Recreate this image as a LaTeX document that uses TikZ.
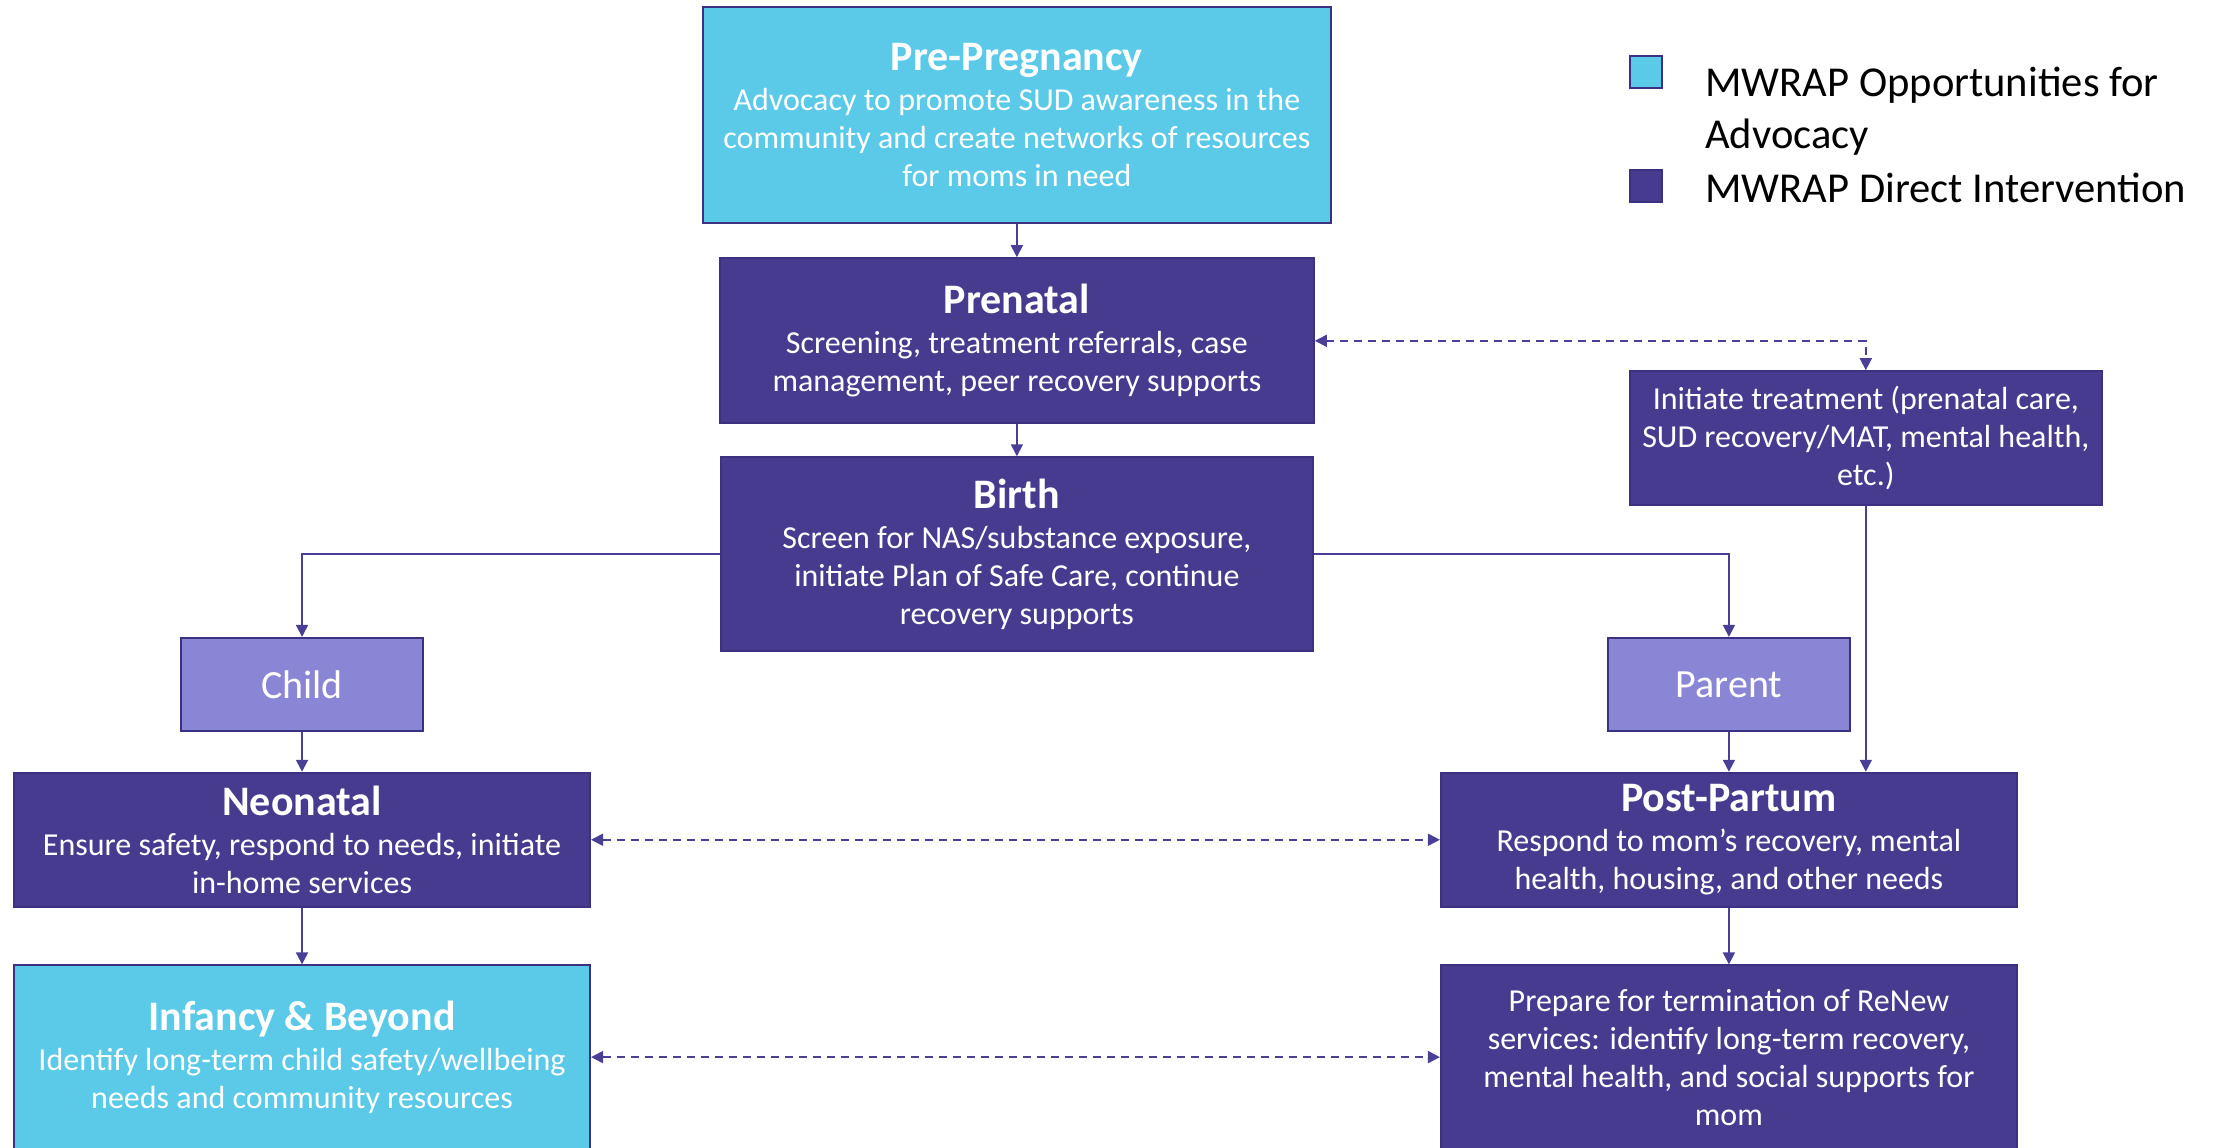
\documentclass[tikz,border=0pt]{standalone}
\usepackage{fontspec}
\setmainfont{Carlito}
\usepackage{xcolor}
\usetikzlibrary{arrows.meta,positioning,calc}
\definecolor{advcyan}{HTML}{5BC9E8}
\definecolor{dirpurple}{HTML}{473B8F}
\definecolor{subpurple}{HTML}{8A86D6}
\definecolor{edgepurple}{HTML}{3B3180}
\definecolor{linkpurple}{HTML}{4A3F97}
\newcommand{\stage}[1]{{\fontsize{21}{25}\selectfont\bfseries #1}\\[1pt]}
\tikzset{
  adv/.style={rectangle, draw=edgepurple, line width=1pt, fill=advcyan, align=center,
              text=white, font=\fontsize{16}{19}\selectfont, inner sep=2pt},
  dir/.style={rectangle, draw=edgepurple, line width=1pt, fill=dirpurple, align=center,
              text=white, font=\fontsize{16}{19}\selectfont, inner sep=2pt},
  sub/.style={rectangle, draw=edgepurple, line width=1pt, fill=subpurple, align=center,
              text=white, font=\fontsize{20}{24}\selectfont, inner sep=2pt,
              minimum width=121pt, minimum height=46.6pt},
  legsq/.style={rectangle, draw=edgepurple, line width=1pt, minimum size=16pt, inner sep=0pt},
  legtxt/.style={align=left, font=\fontsize{21.3}{26}\selectfont, inner sep=0pt},
  fl/.style={-{Triangle[length=6pt,width=6pt]}, line width=0.9pt, draw=linkpurple},
  bi/.style={{Triangle[length=6pt,width=6pt]}-{Triangle[length=6pt,width=6pt]},
             line width=0.9pt, draw=linkpurple, dash pattern=on 4pt off 3pt},
}

\begin{document}
\begin{tikzpicture}[x=0.7057pt, y=-0.7057pt]
\useasboundingbox (0,0) rectangle (1568,813);
% stages
\node[adv, minimum width=314pt, minimum height=108pt] (prepreg) at (720.5,81.5)
  {\stage{Pre-Pregnancy}Advocacy to promote SUD awareness in the\\community and create networks of resources\\for moms in need};
\node[dir, minimum width=297pt, minimum height=82.6pt] (prenatal) at (720.5,241.5)
  {\stage{Prenatal}Screening, treatment referrals, case\\management, peer recovery supports};
\node[dir, minimum width=296pt, minimum height=96.7pt] (birth) at (720.5,392.5)
  {\stage{Birth}Screen for NAS/substance exposure,\\initiate Plan of Safe Care, continue\\recovery supports};
\node[dir, minimum width=235.7pt, minimum height=67pt] (initiate) at (1322,310.5)
  {Initiate treatment (prenatal care,\\SUD recovery/MAT, mental health,\\etc.)};
\node[sub] (child) at (214,485) {Child};
\node[sub] (parent) at (1225,485) {Parent};
\node[dir, minimum width=288pt, minimum height=67pt] (neonatal) at (214,595)
  {\stage{Neonatal}Ensure safety, respond to needs, initiate\\in-home services};
\node[dir, minimum width=288pt, minimum height=67pt] (postpartum) at (1225,595)
  {\stage{Post-Partum}Respond to mom’s recovery, mental\\health, housing, and other needs};
\node[adv, minimum width=288pt, minimum height=91.7pt] (infancy) at (214,749)
  {\stage{Infancy \& Beyond}Identify long-term child safety/wellbeing\\needs and community resources};
\node[dir, minimum width=288pt, minimum height=91.7pt] (prepare) at (1225,749)
  {Prepare for termination of ReNew\\services: identify long-term recovery,\\mental health, and social supports for\\mom};
% legend
\node[legsq, fill=advcyan] (lgadv) at (1166.5,51) {};
\node[legsq, fill=dirpurple] (lgdir) at (1166.5,132) {};
\node[legtxt, anchor=west] (lgadvtxt) at (1208,79) {MWRAP Opportunities for\\Advocacy};
\node[legtxt, anchor=west] (lgdirtxt) at (1208,133) {MWRAP Direct Intervention};
% connectors
\draw[fl] (prepreg) -- (prenatal);
\draw[fl] (prenatal) -- (birth);
\draw[fl] (birth.west) -| (child);
\draw[fl] (birth.east) -| (parent);
\draw[fl] (child) -- (neonatal);
\draw[fl] (parent) -- (postpartum);
\draw[fl] (initiate) -- (initiate |- postpartum.north);
\draw[fl] (neonatal) -- (infancy);
\draw[fl] (postpartum) -- (prepare);
\draw[bi] (prenatal.east) -| (initiate.north);
\draw[bi] (neonatal) -- (postpartum);
\draw[bi] (infancy) -- (prepare);
\end{tikzpicture}
\end{document}
